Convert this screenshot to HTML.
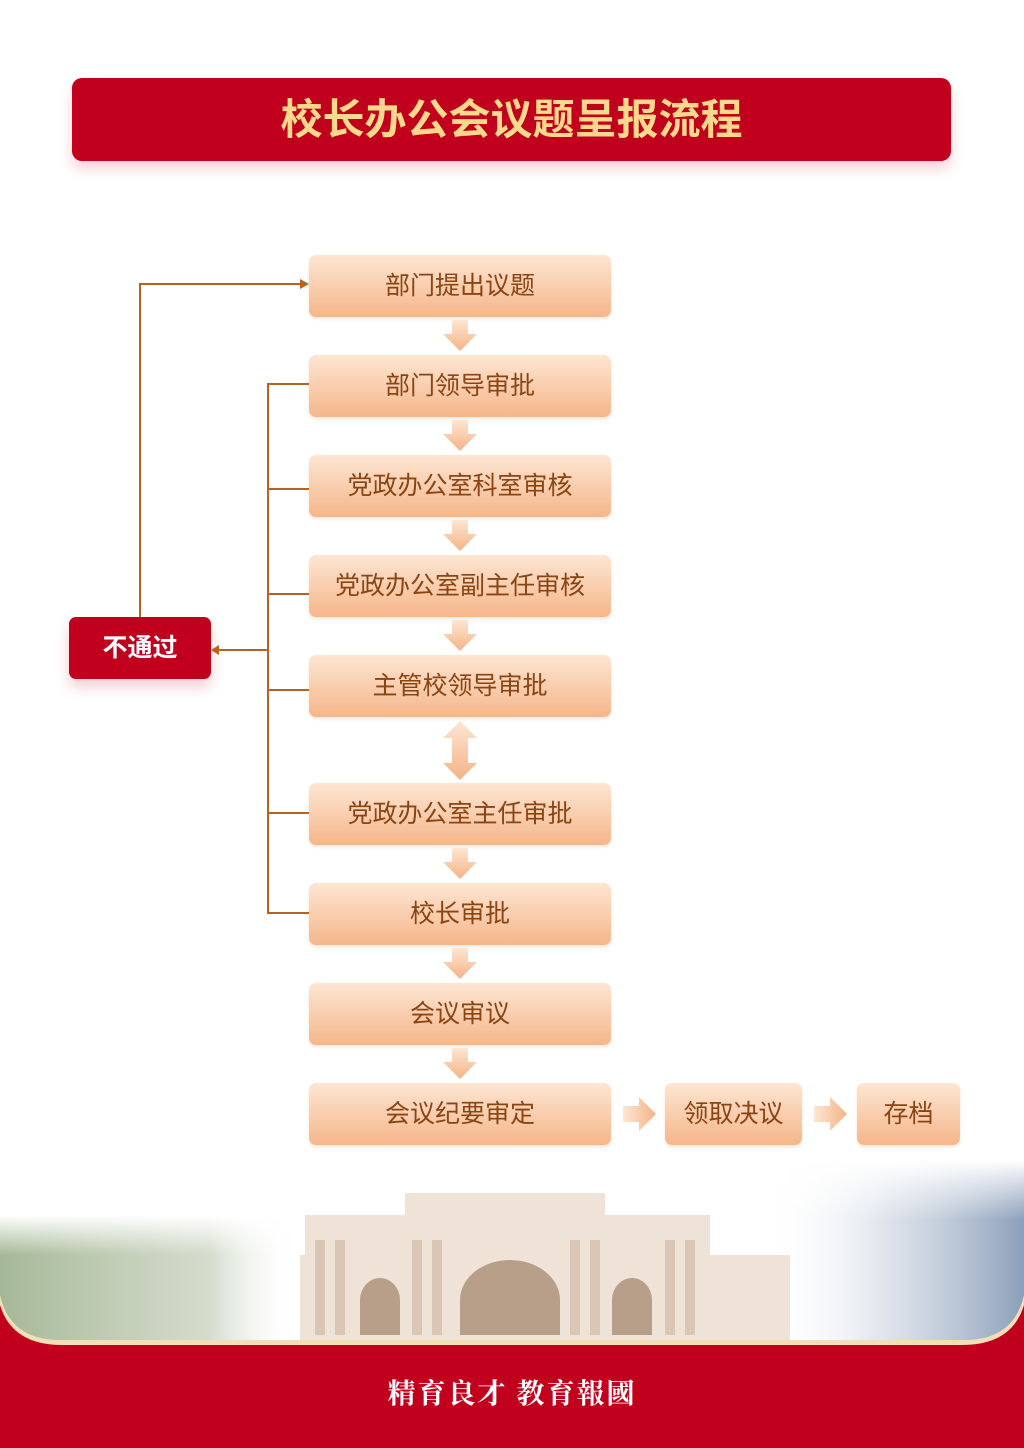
<!DOCTYPE html>
<html><head><meta charset="utf-8"><style>
body{margin:0;width:1024px;height:1448px;position:relative;background:#fff;overflow:hidden;font-family:"Liberation Sans","Noto Sans CJK SC",sans-serif}
.title{position:absolute;left:72px;top:78px;width:879px;height:83px;background:#c0001c;border-radius:10px;box-shadow:0 8px 14px rgba(192,0,28,.18);color:#fbd98c;font-weight:bold;font-size:42px;line-height:83px;text-align:center;letter-spacing:0px}
.b{position:absolute;height:62px;border-radius:7px;background:linear-gradient(#fde6d3,#f5b68a);color:#8b4513;font-size:25px;line-height:62px;text-align:center;box-shadow:0 2px 3px rgba(240,170,120,.3)}
.m{left:309px;width:302px}
.ln{position:absolute;background:#b8621c}
.np{position:absolute;left:69px;top:617px;width:142px;height:62px;background:#c0001c;border-radius:7px;color:#fff;font-weight:bold;font-size:25px;line-height:62px;text-align:center;box-shadow:0 8px 14px rgba(192,0,28,.2)}
svg{position:absolute}
</style></head><body>
<div class="title">校长办公会议题呈报流程</div>

<div class="b m" style="top:255px">部门提出议题</div>
<div class="b m" style="top:355px">部门领导审批</div>
<div class="b m" style="top:455px">党政办公室科室审核</div>
<div class="b m" style="top:555px">党政办公室副主任审核</div>
<div class="b m" style="top:655px">主管校领导审批</div>
<div class="b m" style="top:783px">党政办公室主任审批</div>
<div class="b m" style="top:883px">校长审批</div>
<div class="b m" style="top:983px">会议审议</div>
<div class="b m" style="top:1083px">会议纪要审定</div>
<div class="b" style="top:1083px;left:665px;width:137px">领取决议</div>
<div class="b" style="top:1083px;left:857px;width:103px">存档</div>

<div class="np">不通过</div>

<div class="ln" style="left:267px;top:383px;width:2px;height:531px"></div>
<div class="ln" style="left:267px;top:383px;width:42px;height:2px"></div>
<div class="ln" style="left:267px;top:488px;width:42px;height:2px"></div>
<div class="ln" style="left:267px;top:593px;width:42px;height:2px"></div>
<div class="ln" style="left:267px;top:689px;width:42px;height:2px"></div>
<div class="ln" style="left:267px;top:812px;width:42px;height:2px"></div>
<div class="ln" style="left:267px;top:912px;width:42px;height:2px"></div>
<div class="ln" style="left:218px;top:649px;width:50px;height:2px"></div>
<div class="ln" style="left:139px;top:283px;width:2px;height:334px"></div>
<div class="ln" style="left:139px;top:283px;width:162px;height:2px"></div>

<svg width="1024" height="1448" style="left:0;top:0">
<defs>
<linearGradient id="g" x1="0" y1="0" x2="0" y2="1"><stop offset="0" stop-color="#fde6d3"/><stop offset="1" stop-color="#f4b385"/></linearGradient>
<linearGradient id="h" x1="0" y1="0" x2="1" y2="0"><stop offset="0" stop-color="#fde6d3"/><stop offset="1" stop-color="#f4b385"/></linearGradient>
<linearGradient id="tr" x1="0" y1="0" x2="1" y2="0"><stop offset="0" stop-color="#8fa77c" stop-opacity=".8"/><stop offset=".7" stop-color="#a9b99a" stop-opacity=".5"/><stop offset="1" stop-color="#fff" stop-opacity="0"/></linearGradient>
<linearGradient id="bl" x1="0" y1="0" x2="1" y2="0"><stop offset="0" stop-color="#fff" stop-opacity="0"/><stop offset=".5" stop-color="#b8c4d4" stop-opacity=".5"/><stop offset="1" stop-color="#6f87a8" stop-opacity=".8"/></linearGradient>
<linearGradient id="vf" x1="0" y1="0" x2="0" y2="1"><stop offset="0" stop-color="#fff" stop-opacity="1"/><stop offset="1" stop-color="#fff" stop-opacity="0"/></linearGradient>
</defs>
<polygon points="211,650 219,645 219,655" fill="#b8621c"/>
<polygon points="309,284 300,279 300,289" fill="#b8621c"/>
<g fill="url(#g)">
<polygon points="452,320 468,320 468,334 477,334 460,351 443,334 452,334"/>
<polygon points="452,420 468,420 468,434 477,434 460,451 443,434 452,434"/>
<polygon points="452,520 468,520 468,534 477,534 460,551 443,534 452,534"/>
<polygon points="452,620 468,620 468,634 477,634 460,651 443,634 452,634"/>
<polygon points="460,721 477,738 468,738 468,763 477,763 460,780 443,763 452,763 452,738 443,738"/>
<polygon points="452,848 468,848 468,862 477,862 460,879 443,862 452,862"/>
<polygon points="452,948 468,948 468,962 477,962 460,979 443,962 452,962"/>
<polygon points="452,1048 468,1048 468,1062 477,1062 460,1079 443,1062 452,1062"/>
</g>
<g fill="url(#h)">
<polygon points="623,1106 639,1106 639,1097 656,1114 639,1131 639,1122 623,1122"/>
<polygon points="814,1106 830,1106 830,1097 847,1114 830,1131 830,1122 814,1122"/>
</g>
<rect x="0" y="1215" width="300" height="125" fill="url(#tr)"/>
<rect x="0" y="1215" width="300" height="40" fill="url(#vf)"/>
<rect x="760" y="1160" width="264" height="180" fill="url(#bl)"/>
<rect x="760" y="1160" width="264" height="60" fill="url(#vf)"/>
<g fill="#efe3d8">
<rect x="300" y="1255" width="490" height="85"/>
<rect x="305" y="1215" width="405" height="125"/>
<rect x="405" y="1193" width="200" height="30"/>
</g>
<g fill="#d9c6b4">
<rect x="315" y="1240" width="10" height="95"/><rect x="335" y="1240" width="10" height="95"/>
<rect x="412" y="1240" width="10" height="95"/><rect x="432" y="1240" width="10" height="95"/>
<rect x="570" y="1240" width="10" height="95"/><rect x="590" y="1240" width="10" height="95"/>
<rect x="665" y="1240" width="10" height="95"/><rect x="685" y="1240" width="10" height="95"/>
</g>
<g fill="#b89f8a">
<path d="M460 1335 V1300 A50 40 0 0 1 560 1300 V1335 Z"/>
<path d="M360 1335 V1300 A20 22 0 0 1 400 1300 V1335 Z"/>
<path d="M612 1335 V1300 A20 22 0 0 1 652 1300 V1335 Z"/>
</g>
<path d="M0 1295 Q10 1340 60 1340 L964 1340 Q1014 1340 1024 1295 L1024 1448 L0 1448 Z" fill="#f3dfb7"/>
<path d="M0 1305 Q12 1345 62 1345 L962 1345 Q1012 1345 1024 1305 L1024 1448 L0 1448 Z" fill="#c0001c"/>
</svg>
<div style="position:absolute;left:0;top:1372px;width:1024px;text-align:center;color:#fff;font-size:28px;font-family:'Noto Serif CJK SC','Liberation Serif',serif;font-weight:bold;letter-spacing:2px">精育良才 教育報國</div>
</body></html>
